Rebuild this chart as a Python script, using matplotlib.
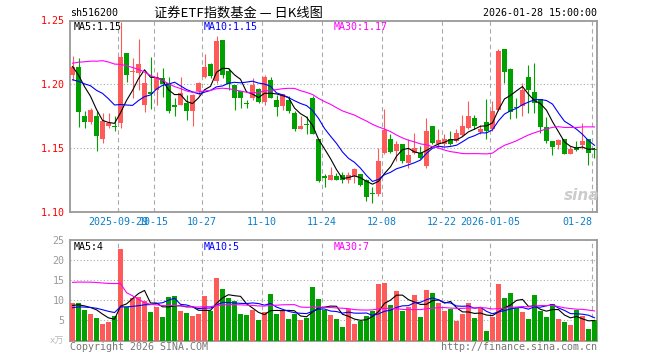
import numpy as np
import pandas as pd
import matplotlib
matplotlib.use('Agg')
import matplotlib.pyplot as plt

code = 'sh516200'
title = '证券ETF指数基金 — 日K线图'
stamp = '2026-01-28 15:00:00'

opens = [1.2070, 1.2138, 1.1753, 1.1700, 1.1752, 1.1566, 1.1670, 1.1672, 1.1696, 1.2242,
         1.2094, 1.2086, 1.1840, 1.1935, 1.1956, 1.2045, 1.2008, 1.1835, 1.1839, 1.1852,
         1.1787, 1.1943, 1.2060, 1.2156, 1.2021, 1.2346, 1.2104, 1.1990, 1.1948, 1.1847,
         1.1890, 1.1964, 1.1860, 1.2034, 1.1878, 1.1826, 1.1878, 1.1774, 1.1644, 1.1688,
         1.1890, 1.1566, 1.1273, 1.1249, 1.1277, 1.1285, 1.1249, 1.1280, 1.1292, 1.1249,
         1.1142, 1.1137, 1.1460, 1.1566, 1.1475, 1.1527, 1.1384, 1.1462, 1.1457, 1.1358,
         1.1670, 1.1532, 1.1527, 1.1566, 1.1553, 1.1600, 1.1657, 1.1735, 1.1623, 1.1704,
         1.1644, 1.1800, 1.2276, 1.2120, 1.1815, 1.1826, 1.2055, 1.1942, 1.1886, 1.1662,
         1.1553, 1.1522, 1.1566, 1.1454, 1.1506, 1.1522, 1.1566, 1.1488]
highs = [1.2220, 1.2203, 1.1787, 1.1810, 1.1787, 1.1774, 1.1774, 1.1748, 1.2489, 1.2242,
         1.2203, 1.2355, 1.2099, 1.2216, 1.2099, 1.2125, 1.2060, 1.1890, 1.2060, 1.1917,
         1.1925, 1.2020, 1.2234, 1.2164, 1.2380, 1.2346, 1.2130, 1.1990, 1.1948, 1.1878,
         1.2047, 1.1970, 1.2073, 1.2060, 1.1917, 1.1922, 1.1904, 1.1787, 1.1748, 1.1748,
         1.1904, 1.1566, 1.1298, 1.1350, 1.1306, 1.1310, 1.1310, 1.1340, 1.1298, 1.1254,
         1.1190, 1.1500, 1.1805, 1.1605, 1.1553, 1.1527, 1.1566, 1.1618, 1.1514, 1.1735,
         1.1675, 1.1644, 1.1605, 1.1636, 1.1644, 1.1760, 1.1870, 1.1760, 1.1683, 1.1886,
         1.1870, 1.2280, 1.2276, 1.2125, 1.1890, 1.2008, 1.2154, 1.2164, 1.1886, 1.1740,
         1.1553, 1.1566, 1.1566, 1.1514, 1.1553, 1.1696, 1.1566, 1.1488]
lows = [1.2030, 1.1662, 1.1657, 1.1690, 1.1474, 1.1540, 1.1657, 1.1630, 1.1657, 1.2020,
        1.1890, 1.1956, 1.1779, 1.1805, 1.1839, 1.1900, 1.1770, 1.1750, 1.1835, 1.1722,
        1.1670, 1.1917, 1.2047, 1.2047, 1.2008, 1.2047, 1.1956, 1.1800, 1.1810, 1.1813,
        1.1878, 1.1850, 1.1839, 1.1890, 1.1748, 1.1800, 1.1774, 1.1630, 1.1644, 1.1605,
        1.1605, 1.1228, 1.1189, 1.1249, 1.1249, 1.1220, 1.1225, 1.1220, 1.1200, 1.1080,
        1.1070, 1.1120, 1.1450, 1.1460, 1.1397, 1.1384, 1.1345, 1.1449, 1.1410, 1.1345,
        1.1527, 1.1500, 1.1514, 1.1520, 1.1545, 1.1592, 1.1644, 1.1644, 1.1610, 1.1566,
        1.1630, 1.1787, 1.2008, 1.1730, 1.1735, 1.1748, 1.1774, 1.1774, 1.1618, 1.1540,
        1.1444, 1.1493, 1.1449, 1.1449, 1.1475, 1.1488, 1.1366, 1.1423]
closes = [1.2135, 1.1779, 1.1700, 1.1800, 1.1591, 1.1709, 1.1696, 1.1665, 1.2216, 1.2073,
          1.2104, 1.2160, 1.2010, 1.1925, 1.2060, 1.2000, 1.1787, 1.1818, 1.1930, 1.1787,
          1.1917, 1.2008, 1.2138, 1.2065, 1.2338, 1.2073, 1.2000, 1.1890, 1.1890, 1.1842,
          1.1990, 1.1860, 1.2060, 1.1890, 1.1818, 1.1922, 1.1787, 1.1644, 1.1670, 1.1680,
          1.1605, 1.1240, 1.1267, 1.1285, 1.1249, 1.1249, 1.1285, 1.1331, 1.1209, 1.1111,
          1.1137, 1.1396, 1.1640, 1.1470, 1.1527, 1.1397, 1.1444, 1.1500, 1.1418, 1.1636,
          1.1540, 1.1558, 1.1566, 1.1527, 1.1618, 1.1670, 1.1748, 1.1670, 1.1644, 1.1631,
          1.1787, 1.2260, 1.2099, 1.1782, 1.1810, 1.1956, 1.1955, 1.1852, 1.1662, 1.1553,
          1.1506, 1.1558, 1.1454, 1.1488, 1.1480, 1.1553, 1.1462, 1.1483]
# volume, 万手
volumes = [9.3, 9.3, 7.6, 6.5, 5.55, 4.0, 4.55, 6.0, 22.75, 8.35,
           10.55, 10.95, 9.85, 7.05, 8.35, 5.8, 10.9, 11.1, 7.3, 6.8,
           6.0, 6.5, 11.0, 7.3, 15.5, 12.8, 10.5, 9.8, 6.5, 6.3,
           7.5, 5.0, 7.0, 11.5, 6.5, 7.3, 5.3, 6.5, 5.0, 5.5,
           13.3, 10.3, 7.5, 6.3, 5.3, 3.3, 7.8, 4.0, 4.8, 6.0,
           7.3, 14.0, 14.25, 8.75, 12.3, 7.3, 8.3, 11.3, 5.8, 12.5,
           11.8, 9.3, 7.3, 7.8, 4.75, 6.5, 9.25, 5.5, 8.25, 2.25,
           5.75, 14.0, 10.5, 11.75, 8.0, 7.0, 5.25, 11.3, 7.3, 5.75,
           9.0, 5.25, 4.5, 3.75, 7.5, 6.0, 2.75, 5.0]

# 29 sessions before the window, guessed from where the MA lines start
prior_close = [1.155, 1.160, 1.165, 1.160, 1.160,
               1.200, 1.215, 1.230, 1.240, 1.250, 1.260, 1.265, 1.270,
               1.265, 1.260, 1.255, 1.250, 1.240, 1.235, 1.225,
               1.190, 1.190, 1.195, 1.195, 1.195,
               1.212, 1.215, 1.218, 1.211]
prior_volume = [7, 8, 7, 7.5, 8, 7.5, 7.5,
                22, 77, 34, 38, 34, 20,
                12, 11, 11, 10, 11, 10, 10.5,
                7.5, 8, 7.5, 7.5, 7.75,
                8.5, 9, 8.5, 8.45]

price_ma_text = ['MA5:1.15', 'MA10:1.15', 'MA30:1.17']
vol_ma_text = ['MA5:4', 'MA10:5', 'MA30:7']

tick_idx = [8, 14, 22, 32, 42, 52, 62, 70, 87]
tick_labels = ['2025-09-29', '10-15', '10-27', '11-10', '11-24',
               '12-08', '12-22', '2026-01-05', '01-28']

RED = '#ff5a5a'
GREEN = '#00a000'
GRID = '#aaaaaa'
BORDER = '#999999'
MA_COLORS = ['black', '#0000ff', '#ff00ff']
MONO = 'DejaVu Sans Mono'
FS = 7.2


def ma(prior, values, n):
    s = pd.Series(list(prior) + list(values)).rolling(n).mean()
    return s.values[len(prior):]


def px(x, y):
    return x / 660, 1 - y / 360


plt.rcParams['font.family'] = [MONO, 'Noto Sans CJK SC']

fig = plt.figure(figsize=(6.6, 3.6), dpi=100)
ax = fig.add_axes([70 / 660, 1 - 211.5 / 360, 527 / 660, 191 / 360])
axv = fig.add_axes([70 / 660, 1 - 340.5 / 360, 527 / 660, 100.2 / 360])

x = np.arange(len(closes))
o, h, l, c = map(np.array, (opens, highs, lows, closes))
colors = np.where(c >= o, RED, GREEN)

# candles
ax.vlines(x, l, h, colors=colors, lw=0.8, zorder=3)
body = np.maximum(np.abs(c - o), 0.0008)
ax.bar(x, body, bottom=np.minimum(o, c), width=0.8, color=colors, lw=0, zorder=3)
for n, col in zip((5, 10, 30), MA_COLORS):
    ax.plot(x, ma(prior_close, closes, n), color=col, lw=0.8, zorder=4)

# volume
axv.bar(x, volumes, width=0.85, color=colors, lw=0, zorder=3)
for n, col in zip((5, 10, 30), MA_COLORS):
    axv.plot(x, ma(prior_volume, volumes, n), color=col, lw=0.8, zorder=4)

gx = [i - 0.4 for i in tick_idx]
for a in (ax, axv):
    a.set_xlim(-0.42, 87.42)
    a.set_xticks(gx)
    a.grid(axis='x', color=GRID, lw=0.8, dashes=(4, 3))
    a.tick_params(length=0, pad=4)
    for s in a.spines.values():
        s.set_color(BORDER)
        s.set_linewidth(1.3)
    a.set_axisbelow(True)

ax.set_ylim(1.10, 1.25)
ax.set_yticks([1.10, 1.15, 1.20, 1.25])
ax.set_yticklabels(['%.2f' % v for v in [1.10, 1.15, 1.20, 1.25]],
                   color='red', fontsize=FS)
for v in (1.15, 1.20):
    ax.axhline(v, color=GRID, lw=0.8, dashes=(1, 2), zorder=1)
ax.set_xticklabels(tick_labels, color='#0a7fc8', fontsize=FS)
ax.get_xticklabels()[-1].set_ha('right')

axv.set_ylim(0, 25)
axv.set_yticks([5, 10, 15, 20, 25])
axv.set_yticklabels(['5', '10', '15', '20', '25'], color='#999999', fontsize=FS)
for v in (5, 10, 15, 20):
    axv.axhline(v, color=GRID, lw=0.8, dashes=(1, 2), zorder=1)
axv.set_xticklabels([])

# header
fig.text(*px(70, 13), code, fontsize=FS, va='center', ha='left')
fig.text(*px(238, 13), title, fontsize=9.5, va='center', ha='center',
         family=['Noto Sans CJK SC', 'DejaVu Sans'])
fig.text(*px(597, 13), stamp, fontsize=FS, va='center', ha='right')

for i, (t, col) in enumerate(zip(price_ma_text, MA_COLORS)):
    fig.text(*px(74 + 130 * i, 26.5), t, color=col, fontsize=FS, va='center')
for i, (t, col) in enumerate(zip(vol_ma_text, MA_COLORS)):
    fig.text(*px(74 + 130 * i, 247), t, color=col, fontsize=FS, va='center')

fig.text(*px(64, 341), 'x万', color='#bbbbbb', fontsize=6.5, ha='right', va='center',
         family=[MONO, 'Noto Sans CJK SC'])
fig.text(*px(70, 347), 'Copyright 2026 SINA.COM', color='#777777', fontsize=FS,
         va='center')
fig.text(*px(597, 347), 'http://finance.sina.com.cn', color='#777777', fontsize=FS,
         va='center', ha='right')
fig.text(*px(582, 196), 'sina', color='#cccccc', fontsize=11, style='italic',
         weight='bold', ha='center', va='center', family='DejaVu Sans')

fig.savefig('out.png', dpi=100)
